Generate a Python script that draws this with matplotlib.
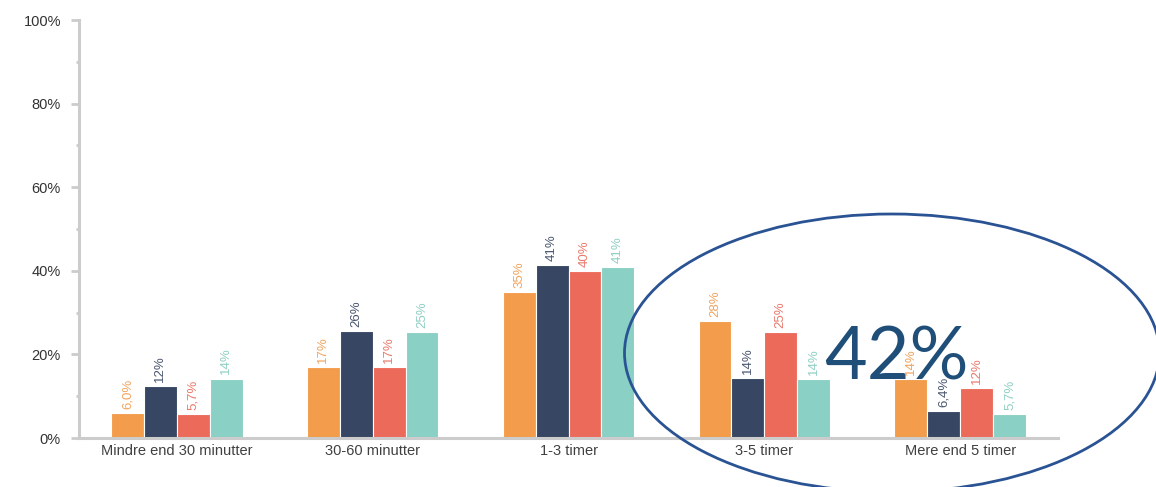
import matplotlib
matplotlib.use("Agg")
import matplotlib.pyplot as plt
from matplotlib.patches import Ellipse
import numpy as np

categories = ["Mindre end 30 minutter", "30-60 minutter", "1-3 timer", "3-5 timer", "Mere end 5 timer"]
series_a = [6.0, 17.0, 35.0, 28.0, 14.0]
series_b = [12.4, 25.6, 41.4, 14.4, 6.4]
series_c = [5.7, 17.0, 40.0, 25.4, 12.0]
series_d = [14.2, 25.4, 40.9, 14.1, 5.7]
labels_a = ["6,0%", "17%", "35%", "28%", "14%"]
labels_b = ["12%", "26%", "41%", "14%", "6,4%"]
labels_c = ["5,7%", "17%", "40%", "25%", "12%"]
labels_d = ["14%", "25%", "41%", "14%", "5,7%"]
yticks = [0, 20, 40, 60, 80, 100]
ytick_labels = ["0%", "20%", "40%", "60%", "80%", "100%"]
highlight_text = "42%"

colors = ["#F39C4B", "#374663", "#EB6A5A", "#8BD0C4"]
label_colors = ["#F2A45E", "#4A5670", "#E97A6C", "#8FCFC4"]

plt.rcParams["font.family"] = ["Liberation Sans", "DejaVu Sans"]

fig = plt.figure(figsize=(11.56, 4.87), dpi=100)
ax = fig.add_axes([79/1156, 49/487, (1058-79)/1156, (438-20)/487])

x = np.arange(len(categories))
w = 0.168
all_series = [series_a, series_b, series_c, series_d]
all_labels = [labels_a, labels_b, labels_c, labels_d]
for i, (vals, labs) in enumerate(zip(all_series, all_labels)):
    pos = x + (i - 1.5) * w
    ax.bar(pos, vals, width=w, color=colors[i], edgecolor="white", linewidth=0.8, zorder=2)
    for px, v, lab in zip(pos, vals, labs):
        ax.text(px, v + 1.0, lab, rotation=90, ha="center", va="bottom",
                fontsize=9.5, color=label_colors[i], zorder=3)

ax.set_xlim(-0.5, 4.5)
ax.set_ylim(0, 100)
ax.set_yticks(yticks)
ax.set_yticklabels(ytick_labels, fontsize=10.5, color="#333333")
ax.set_yticks(np.arange(10, 100, 20), minor=True)
ax.set_xticks(x)
ax.set_xticklabels(categories, fontsize=10.5, color="#404040")
ax.tick_params(axis="x", length=0, pad=4)
ax.tick_params(axis="y", which="major", length=6, width=2, color="#cccccc", pad=7)
ax.tick_params(axis="y", which="minor", length=2.5, width=2, color="#cccccc")
for s in ["top", "right"]:
    ax.spines[s].set_visible(False)
for s in ["left", "bottom"]:
    ax.spines[s].set_color("#cccccc")
    ax.spines[s].set_linewidth(2.2)

# highlight annotation (figure pixel coordinates)
ell = Ellipse((892/1156, 1 - 353/487), 535/1156, 278/487, transform=fig.transFigure,
              fill=False, edgecolor="#2A5394", linewidth=2.0, zorder=5)
fig.add_artist(ell)
fig.text(896/1156, 1 - 359/487, highlight_text, ha="center", va="center",
         fontsize=53, color="#1F4E79", family=["Lato", "DejaVu Sans"], zorder=6)

fig.savefig("out.png", dpi=100)
